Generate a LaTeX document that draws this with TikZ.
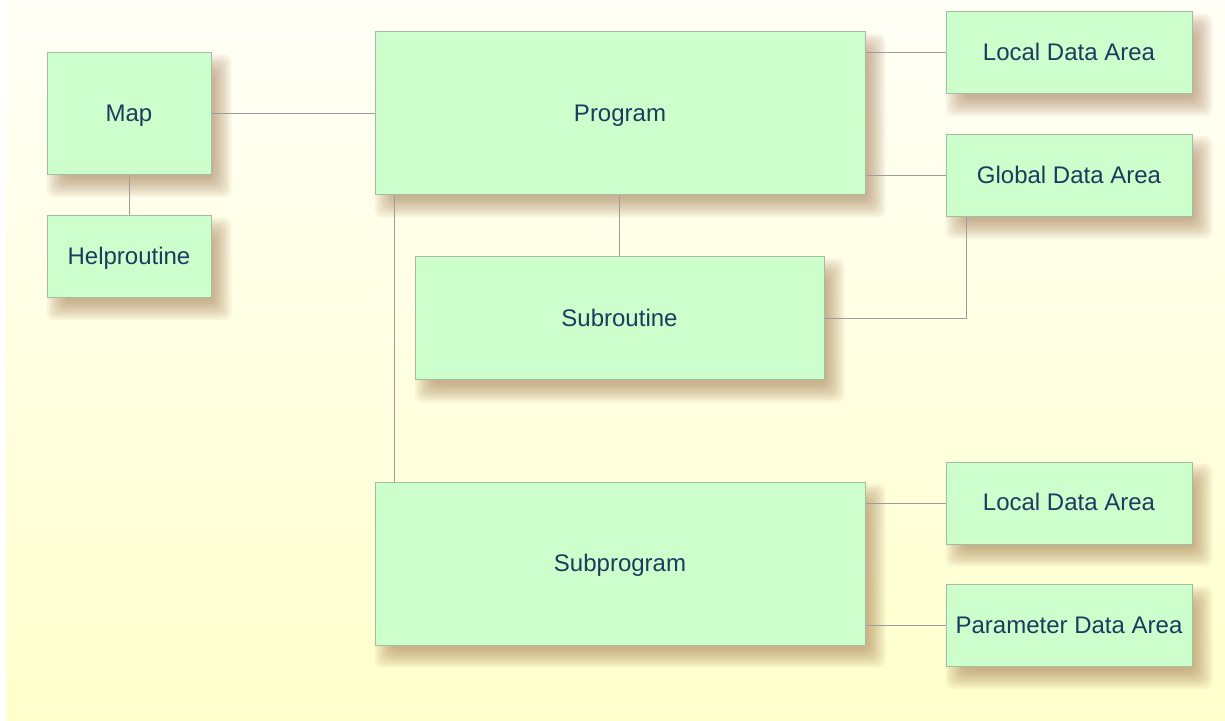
\documentclass[tikz,border=0pt]{standalone}
\usepackage{fontspec}
\setmainfont{Liberation Sans}
\definecolor{boxfill}{HTML}{CCFFCC}
\definecolor{boxedge}{HTML}{A3BDA3}
\definecolor{linkclr}{HTML}{9C9C9C}
\definecolor{txtclr}{HTML}{1E3A5F}
\definecolor{bgtop}{HTML}{FFFFF7}
\definecolor{bgbottom}{HTML}{FFFFCC}
\definecolor{shadowclr}{HTML}{8B5A2B}
\pgfdeclarelayer{backdrop}
\pgfdeclarelayer{shadowlayer}
\pgfsetlayers{backdrop,shadowlayer,main}
\begin{document}
\begin{tikzpicture}[x=0.5pt,y=-0.5pt, font=\fontsize{12}{14}\selectfont,
	box/.style={draw=boxedge, fill=boxfill, line width=0.5pt, inner sep=0pt, text=txtclr,
		text height=9.6pt, text depth=2pt},
	bigbox/.style={box, minimum width=245pt, minimum height=81.5pt},
	areabox/.style={box, minimum width=123pt, minimum height=41pt},
	link/.style={draw=linkclr, line width=0.5pt}]
	\useasboundingbox (0,0) rectangle (1225,721);
	% boxes
	\node[box, minimum width=82pt, minimum height=61pt] (map) at (129,114) {Map};
	\node[box, minimum width=82pt, minimum height=41pt] (help) at (129,257) {Helproutine};
	\node[bigbox] (prog) at (620,113.5) {Program};
	\node[box, minimum width=204.5pt, minimum height=61.5pt] (subr) at (619.5,318.5) {Subroutine};
	\node[bigbox] (subp) at (620,563.5) {Subprogram};
	\node[areabox] (lda1) at (1069,53) {Local Data Area};
	\node[areabox] (gda) at (1069,175.5) {Global Data Area};
	\node[areabox] (lda2) at (1069,503) {Local Data Area};
	\node[areabox] (pda) at (1069,625.5) {Parameter Data Area};
	% connections
	\path[link] (map.east) -- (map.east -| prog.west);
	\path[link] (map.south) -- (help.north);
	\path[link] (lda1.west) -- (lda1.west -| prog.east);
	\path[link] (gda.west) -- (gda.west -| prog.east);
	\path[link] (subr.north) -- (subr.north |- prog.south);
	\path[link] ([xshift=10pt]prog.south west) -- ([xshift=10pt]subp.north west);
	\path[link] (subr.east) -| ([xshift=10.5pt]gda.south west);
	\path[link] (lda2.west) -- (lda2.west -| subp.east);
	\path[link] (pda.west) -- (pda.west -| subp.east);
	% soft shadows
	\begin{pgfonlayer}{shadowlayer}
		\foreach \n in {map,help,prog,subr,subp,lda1,gda,lda2,pda}
		\foreach \r in {-8,-6,...,10}
		\fill[shadowclr, opacity=0.055, rounded corners=4pt]
		([shift={(10-\r,12-\r)}]\n.north west) rectangle ([shift={(10+\r,12+\r)}]\n.south east);
	\end{pgfonlayer}
	% background
	\begin{pgfonlayer}{backdrop}
		\fill[white] (0,0) rectangle (6,721);
		\shade[top color=bgtop, bottom color=bgbottom] (6,0) rectangle (1225,721);
	\end{pgfonlayer}
\end{tikzpicture}
\end{document}
